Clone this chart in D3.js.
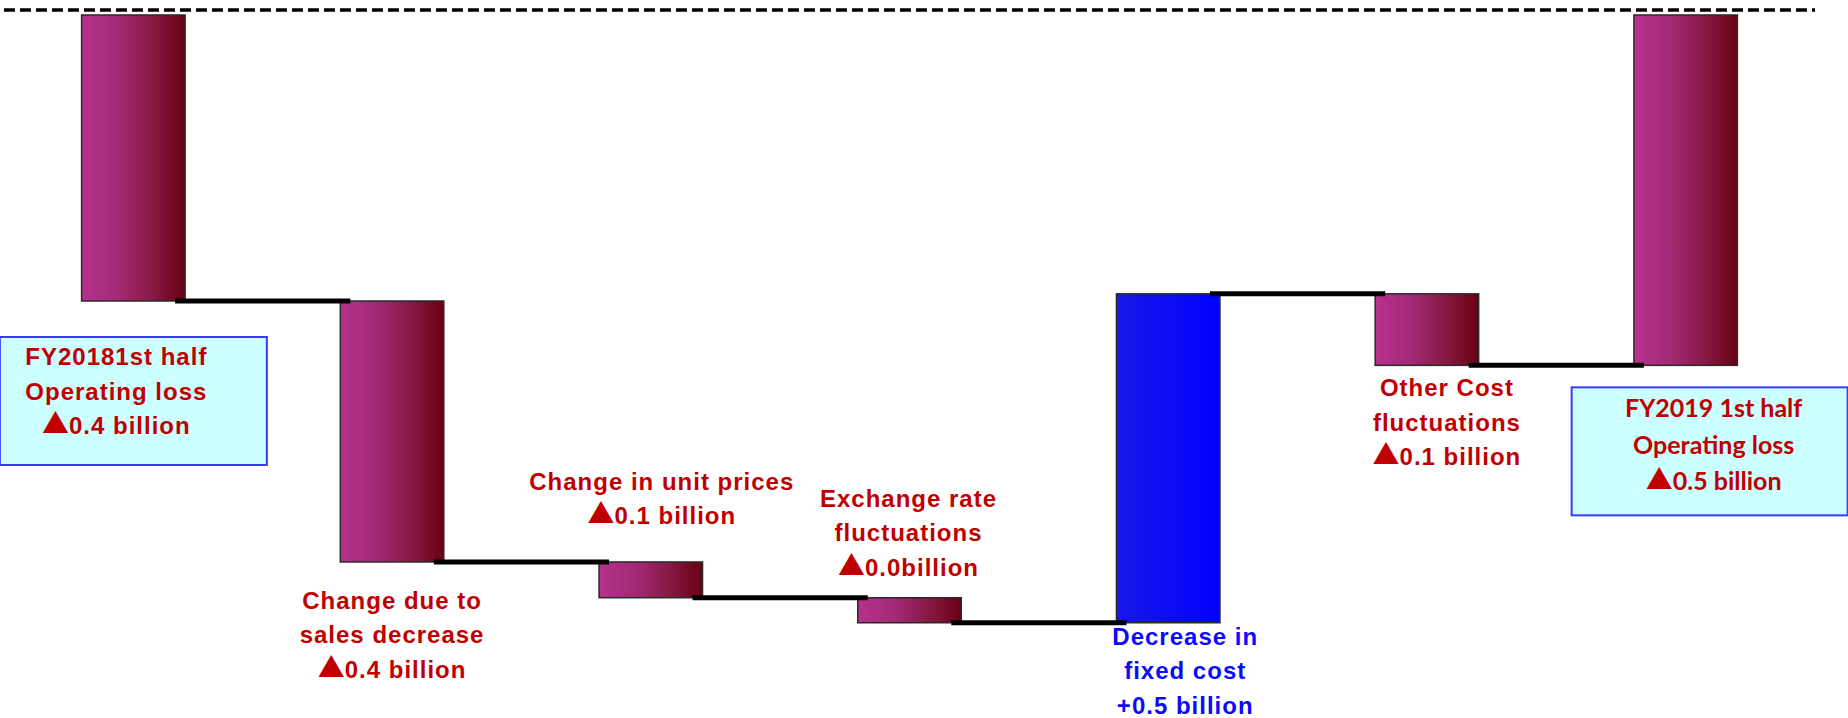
<!DOCTYPE html>
<html>
<head>
<meta charset="utf-8">
<script src="https://cdn.jsdelivr.net/npm/d3@7"></script>
<style>
  html, body { margin: 0; padding: 0; background: #ffffff; }
  svg { display: block; }
</style>
</head>
<body>
<div id="chart"></div>
<script>
// Operating profit bridge, FY2018 1st half -> FY2019 1st half (billion)
const categories = ["FY2018 1H", "Sales volume", "Unit prices", "Exchange rate", "Fixed cost", "Other cost", "FY2019 1H"];
const kinds = ["total", "delta", "delta", "delta", "delta", "delta", "total"];
const startValue = -0.40;
const deltaValues = [-0.365, -0.05, -0.035, 0.46, -0.10];

const labelLines = [
  ["FY20181st half", "Operating loss", "▲0.4 billion"],
  ["Change due to", "sales decrease", "▲0.4 billion"],
  ["Change in unit prices", "▲0.1 billion"],
  ["Exchange rate", "fluctuations", "▲0.0billion"],
  ["Decrease in", "fixed cost", "+0.5 billion"],
  ["Other Cost", "fluctuations", "▲0.1 billion"],
  ["FY2019 1st half", "Operating loss", "▲0.5 billion"]
];

// label placement relative to each bar: side of the bar, horizontal nudge, gap to first baseline
const labelPlacement = [
  { boxed: true,  side: "below", dx: -17, dy: 64,  boxTop: 36, boxW: 267, boxDx: 0,  font: "liberation" },
  { boxed: false, side: "below", dx: 0,   dy: 47,  font: "liberation" },
  { boxed: false, side: "above", dx: 11,  dy: -72, font: "liberation" },
  { boxed: false, side: "above", dx: -1,  dy: -91, font: "liberation" },
  { boxed: false, side: "below", dx: 17,  dy: 22,  font: "liberation", blue: true },
  { boxed: false, side: "below", dx: 20,  dy: 31,  font: "liberation" },
  { boxed: true,  side: "below", dx: 28,  dy: 52,  boxTop: 22, boxW: 276, boxDx: 24, font: "lato" }
];

const W = 1848, H = 718;
const svg = d3.select("#chart").append("svg").attr("width", W).attr("height", H);

// running levels of the bridge
const rows = [];
let level = startValue;
rows.push({ cat: categories[0], kind: kinds[0], from: 0, to: startValue });
deltaValues.forEach((d, i) => {
  rows.push({ cat: categories[i + 1], kind: kinds[i + 1], from: level, to: level + d, delta: d });
  level += d;
});
rows.push({ cat: categories[6], kind: kinds[6], from: 0, to: level });

const x = d3.scaleBand().domain(categories).range([4, 1815]).paddingInner(0.6).paddingOuter(0.3);
const y = d3.scaleLinear().domain([0, -1]).range([15, 730]);
const bw = x.bandwidth();

// gradients
const defs = svg.append("defs");
const lossGrad = defs.append("linearGradient").attr("id", "lossFill").attr("x1", 0).attr("x2", 1).attr("y1", 0).attr("y2", 0);
[[0, "#b8318e"], [0.35, "#a22a76"], [0.7, "#861841"], [1, "#680012"]].forEach(([o, c]) =>
  lossGrad.append("stop").attr("offset", o).attr("stop-color", c));
const gainGrad = defs.append("linearGradient").attr("id", "gainFill").attr("x1", 0).attr("x2", 1).attr("y1", 0).attr("y2", 0);
[[0, "#1818e8"], [1, "#0000ff"]].forEach(([o, c]) =>
  gainGrad.append("stop").attr("offset", o).attr("stop-color", c));

// zero reference line
svg.append("line")
  .attr("x1", x.range()[0]).attr("x2", x.range()[1])
  .attr("y1", y(0) - 5).attr("y2", y(0) - 5)
  .attr("stroke", "#000").attr("stroke-width", 3.5).attr("stroke-dasharray", "11,5");

// bars
svg.append("g").selectAll("rect").data(rows).join("rect")
  .attr("x", d => x(d.cat))
  .attr("width", bw)
  .attr("y", d => Math.min(y(d.from), y(d.to)))
  .attr("height", d => Math.abs(y(d.from) - y(d.to)))
  .attr("fill", d => (d.kind === "delta" && d.delta > 0) ? "url(#gainFill)" : "url(#lossFill)")
  .attr("stroke", "#2a2a2a").attr("stroke-width", 1.5);

// connectors between consecutive bars
const links = d3.pairs(rows);
svg.append("g").selectAll("line").data(links).join("line")
  .attr("x1", ([a]) => x(a.cat) + bw - 10)
  .attr("x2", ([, b]) => x(b.cat) + 10)
  .attr("y1", ([a]) => y(a.to))
  .attr("y2", ([a]) => y(a.to))
  .attr("stroke", "#000").attr("stroke-width", 5);

// labels
const lineH = 34.5;
const labels = svg.append("g");
rows.forEach((r, i) => {
  const p = labelPlacement[i];
  const cx = x(r.cat) + bw / 2;
  const edge = p.side === "below" ? Math.max(y(r.from), y(r.to)) : Math.min(y(r.from), y(r.to));
  if (p.boxed) {
    labels.append("rect")
      .attr("x", cx + p.boxDx - p.boxW / 2)
      .attr("y", edge + p.boxTop)
      .attr("width", p.boxW)
      .attr("height", 128)
      .attr("fill", "#ccffff")
      .attr("stroke", "#3a3aff").attr("stroke-width", 2);
  }
  const t = labels.append("text")
    .attr("text-anchor", "middle")
    .attr("fill", p.blue ? "#0a0aff" : "#c00000")
    .attr("font-weight", "bold");
  if (p.font === "lato") {
    t.attr("font-family", "Lato, 'Open Sans', sans-serif").attr("font-size", 25);
  } else {
    t.attr("font-family", "'Liberation Sans', Arial, sans-serif").attr("font-size", 24)
      .attr("letter-spacing", 1);
  }
  labelLines[i].forEach((s, k) => {
    const yy = edge + p.dy + k * (p.font === "lato" ? 36.5 : lineH);
    if (s.startsWith("▲")) {
      // the loss marker is set in a full-width glyph
      t.append("tspan")
        .attr("x", cx + p.dx).attr("y", yy)
        .attr("font-family", "'Noto Sans CJK JP', sans-serif")
        .attr("font-size", 27)
        .attr("letter-spacing", 0)
        .text("▲");
      t.append("tspan").text(s.slice(1));
    } else {
      t.append("tspan").attr("x", cx + p.dx).attr("y", yy).text(s);
    }
  });
});
</script>
</body>
</html>
